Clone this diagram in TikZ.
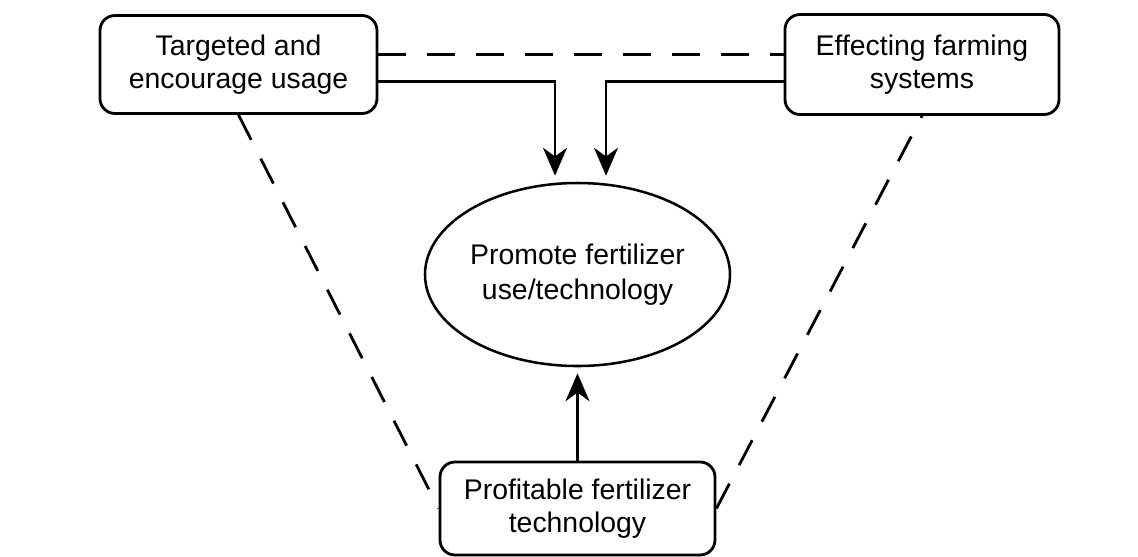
\documentclass[tikz,border=0pt]{standalone}
\usepackage{fontspec}
\setmainfont{Liberation Sans}
\usetikzlibrary{shapes,arrows.meta}

\begin{document}
\begin{tikzpicture}
      \tikzset{factor box/.style={draw=black,
          line width=2pt,
          rounded corners=0.375cm,
          inner sep=0pt,
          align=center,
          font=\fontsize{20.2}{23.5}\selectfont},
        goal/.style={draw=black,
          line width=1.8pt,
          ellipse,
          inner sep=0pt,
          align=center,
          font=\fontsize{20.2}{24.5}\selectfont},
        flow/.style={line width=2pt,
          -{Stealth[length=0.7cm,width=0.6cm,inset=0.22cm]},
          shorten >=0.15cm},
        link/.style={line width=2pt,
          dash pattern=on 0.7cm off 0.525cm}
      }
      \useasboundingbox (0,0) rectangle (28.45,-13.9);
      \node [factor box, minimum width=6.925cm, minimum height=2.45cm] (target) at (5.9625,-1.6125) {Targeted and\\encourage usage};
      \node [factor box, minimum width=6.85cm, minimum height=2.5cm] (farming) at (23.05,-1.6125) {Effecting farming\\systems};
      \node [factor box, minimum width=6.875cm, minimum height=2.325cm] (profit) at (14.4375,-12.7125) {Profitable fertilizer\\technology};
      \node [goal, minimum width=7.625cm, minimum height=4.575cm] (promote) at (14.4375,-6.8625) {Promote fertilizer\\use/technology};

      \draw [link] ([yshift=0.25cm]target.east) -- ([yshift=0.25cm]farming.west);
      \draw [flow] ([yshift=-0.425cm]target.east) -| ([xshift=-0.5625cm]promote.north);
      \draw [flow] ([yshift=-0.425cm]farming.west) -| ([xshift=0.7125cm]promote.north);
      \draw [flow] (profit.north) -- (promote.south);

      \draw [link] (target.south) -- (profit.west);
      \draw [link] (profit.east) -- (farming.south);

    \end{tikzpicture}
\end{document}
